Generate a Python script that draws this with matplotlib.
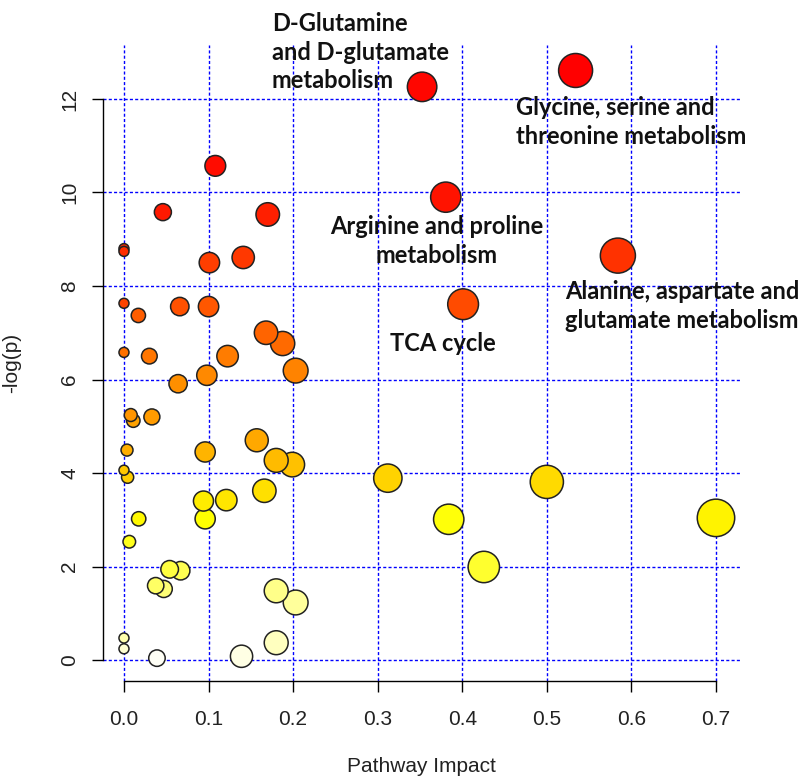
import numpy as np
import matplotlib
matplotlib.use("Agg")
import matplotlib.pyplot as plt
from matplotlib.colors import hsv_to_rgb

# ---- data (pathway impact, -log(p)) ----
impact = [0.534, 0.3525, 0.108, 0.3805, 0.046, 0.170, 0.0, 0.0, 0.584, 0.141,
          0.101, 0.0, 0.401, 0.066, 0.100, 0.017, 0.168, 0.1876, 0.0, 0.030,
          0.1225, 0.203, 0.098, 0.064, 0.008, 0.033, 0.011, 0.157, 0.0036, 0.096,
          0.180, 0.199, 0.0, 0.0043, 0.312, 0.500, 0.166, 0.121, 0.094, 0.700,
          0.0174, 0.096, 0.384, 0.0063, 0.4255, 0.054, 0.067, 0.0375, 0.047, 0.180,
          0.203, 0.0, 0.180, 0.0, 0.139, 0.039]
neglogp = [12.61, 12.26, 10.57, 9.90, 9.58, 9.53, 8.80, 8.74, 8.65, 8.61,
           8.50, 7.63, 7.61, 7.56, 7.56, 7.37, 7.00, 6.77, 6.58, 6.50,
           6.50, 6.19, 6.09, 5.91, 5.24, 5.20, 5.12, 4.70, 4.49, 4.45,
           4.27, 4.18, 4.06, 3.91, 3.89, 3.81, 3.62, 3.42, 3.40, 3.04,
           3.02, 3.02, 3.01, 2.53, 1.99, 1.94, 1.91, 1.59, 1.52, 1.48,
           1.23, 0.47, 0.37, 0.24, 0.08, 0.04]

labels = ["D-Glutamine\nand D-glutamate\nmetabolism",
          "Glycine, serine and\nthreonine metabolism",
          "Arginine and proline\nmetabolism",
          "Alanine, aspartate and\nglutamate metabolism",
          "TCA cycle"]
label_x = [0.175, 0.4635, 0.370, 0.5215, 0.3145]
label_y = [13.0, 11.51, 8.96, 7.57, 6.76]
label_ha = ["left", "left", "center", "left", "left"]

xticks = [0.0, 0.1, 0.2, 0.3, 0.4, 0.5, 0.6, 0.7]
xtick_labels = ["0.0", "0.1", "0.2", "0.3", "0.4", "0.5", "0.6", "0.7"]
yticks = [0, 2, 4, 6, 8, 10, 12]


def heat_colors(n):
    j = n // 4
    i = n - j
    cols = [hsv_to_rgb((h, 1.0, 1.0)) for h in np.linspace(0, 1 / 6, i)]
    if j > 0:
        for s in np.linspace(1 - 1 / (2 * j), 1 / (2 * j), j):
            cols.append(hsv_to_rgb((1 / 6, s, 1.0)))
    return cols


x = np.array(impact)
y = np.array(neglogp)
n = len(y)
heat = heat_colors(n)
order = np.argsort(-y, kind="stable")
colors = [None] * n
for k, idx in enumerate(order):
    colors[idx] = heat[k]

# radius in pixels from impact, converted to scatter area (points^2)
r_px = 5 + 16.4 * np.sqrt(x)
sizes = (2 * r_px * 0.72) ** 2

fig = plt.figure(figsize=(8.04, 7.76), dpi=100)
ax = fig.add_axes([103 / 804, 1 - 681 / 776, (740 - 103) / 804, (681 - 45) / 776])

ax.set_xlim(-0.0248, 0.7284)
ax.set_ylim(-0.449, 13.155)

ax.set_axisbelow(True)
ax.grid(True, color="#0000FF", linestyle=(0, (2.2, 1.6)), linewidth=1.0)

# draw largest circles first so small ones stay visible
draw = np.argsort(-sizes, kind="stable")
ax.scatter(x[draw], y[draw], s=sizes[draw], c=[colors[i] for i in draw],
           edgecolors="#222222", linewidths=1.1, zorder=3, clip_on=False)

for t, lx, ly, ha in zip(labels, label_x, label_y, label_ha):
    ax.text(lx, ly, t, ha=ha, va="center", multialignment=ha,
            fontsize=17, fontweight="bold", family=["Lato", "DejaVu Sans"],
            linespacing=1.3, color="#111111", zorder=5, clip_on=False)

tickfont = ["Liberation Sans", "DejaVu Sans"]
for side in ["top", "right"]:
    ax.spines[side].set_visible(False)
ax.spines["left"].set_bounds(0, 12)
ax.spines["bottom"].set_bounds(0, 0.7)
for side in ["left", "bottom"]:
    ax.spines[side].set_linewidth(1.0)
    ax.spines[side].set_color("black")

ax.set_xticks(xticks)
ax.set_xticklabels(xtick_labels, family=tickfont, fontsize=15, color="#222222")
ax.set_yticks(yticks)
ax.set_yticklabels([str(v) for v in yticks], family=tickfont, fontsize=15,
                   rotation=90, va="center", color="#222222")
ax.tick_params(axis="both", length=8, width=1.0, color="black")
ax.tick_params(axis="x", pad=13)
ax.tick_params(axis="y", pad=9)

ax.set_xlabel("Pathway Impact", family=tickfont, fontsize=15, labelpad=20,
              color="#222222")
ax.set_ylabel("-log(p)", family=tickfont, fontsize=15, labelpad=28,
              color="#222222")

fig.savefig("out.png", dpi=100)
